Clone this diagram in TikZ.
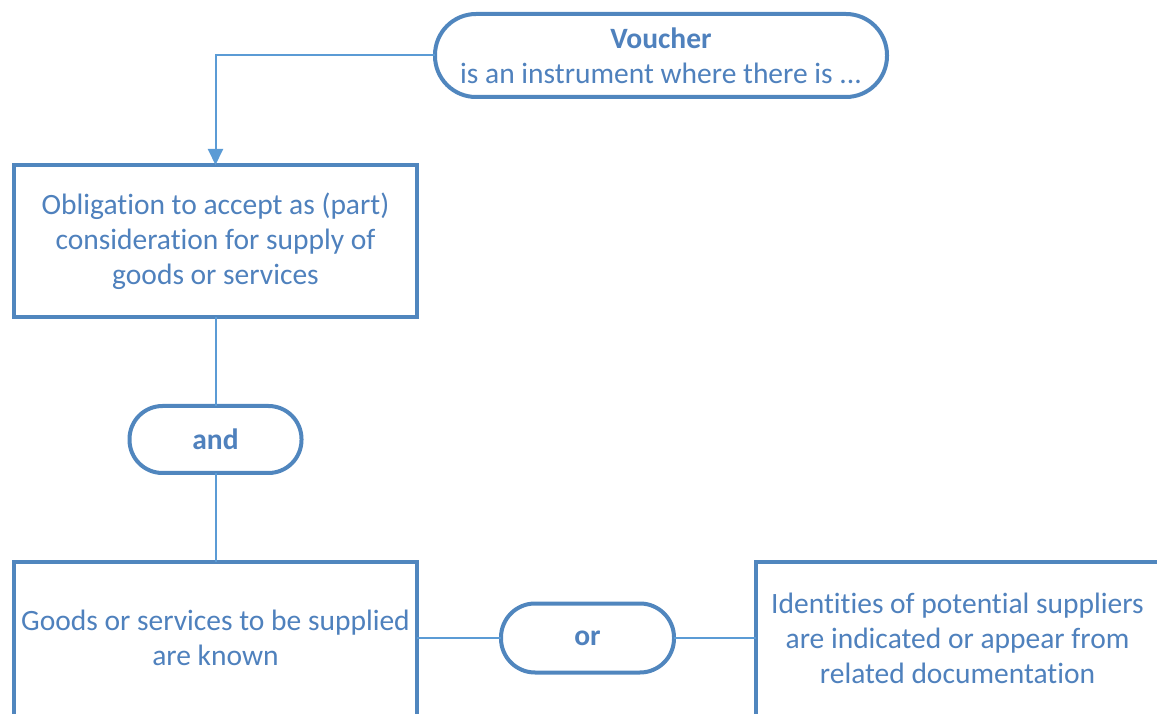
\documentclass[tikz,border=0pt]{standalone}
\usepackage{fontspec}
\setmainfont[Ligatures=CommonOff]{Carlito}
\usepackage{xcolor}
\usetikzlibrary{arrows.meta, positioning}

\definecolor{boxline}{RGB}{80,134,190}
\definecolor{linkline}{RGB}{91,155,213}
\definecolor{boxtext}{RGB}{79,129,189}

\begin{document}
\begin{tikzpicture}[x=1pt, y=1pt, node distance=89pt and 84pt,
    every node/.style={font=\fontsize{29.5}{35}\selectfont, text=boxtext, outer sep=0pt},
    block/.style={rectangle, draw=boxline, line width=4pt, fill=white, align=center, minimum width=403pt, minimum height=152pt},
    lowblock/.style={block, minimum height=162pt, text depth=10pt},
    pill/.style={rectangle, draw=boxline, line width=4pt, fill=white, align=center, rounded corners=#1},
    link/.style={draw=linkline, line width=2pt},
    arrow/.style={link, -{Triangle[width=15pt,length=16pt]}}]

    \useasboundingbox (0,0) rectangle (1157,713);
    \clip (0,0) rectangle (1157,713);

    % Nodes
    \node [pill=41pt, minimum width=452pt, minimum height=83pt] (voucher) at (661,657.5)
        {\textbf{Voucher}\\is an instrument where there is ...};
    \node [block] (oblig) at (215.5,472)
        {Obligation to accept as (part)\\consideration for supply of\\goods or services};
    \node [pill=33pt, minimum width=172pt, minimum height=67pt, below=of oblig] (and) {\textbf{and}};
    \node [lowblock, below=of and] (known) {Goods or services to be supplied\\are known};
    \node [pill=34pt, minimum width=173pt, minimum height=69pt, right=of known, yshift=5pt] (or) {\textbf{or}};
    \node [lowblock, right=82pt of or, yshift=-5pt] (ident)
        {Identities of potential suppliers\\are indicated or appear from\\related documentation};

    % Arrows
    \draw [arrow] (voucher.west) -| (oblig.north);
    \draw [link] (oblig) -- (and);
    \draw [link] (and) -- (known);
    \draw [link] (known.east |- or.west) -- (or.west);
    \draw [link] (or.east) -- (ident.west |- or.east);

\end{tikzpicture}
\end{document}
